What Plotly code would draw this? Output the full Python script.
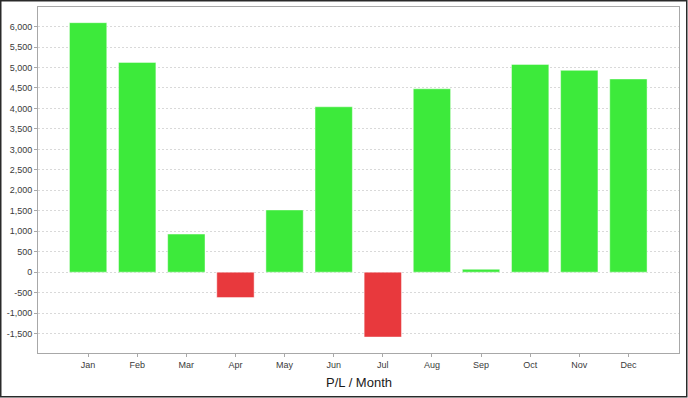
import plotly.graph_objects as go

months = ["Jan", "Feb", "Mar", "Apr", "May", "Jun", "Jul", "Aug", "Sep", "Oct", "Nov", "Dec"]
pl_values = [6095, 5125, 930, -620, 1520, 4040, -1585, 4480, 70, 5075, 4930, 4720]
y_ticks = [-1500, -1000, -500, 0, 500, 1000, 1500, 2000, 2500, 3000, 3500, 4000, 4500, 5000, 5500, 6000]
title_text = "P/L / Month"

GREEN = "#3dea3b"
RED = "#e8393d"
colors = [GREEN if v >= 0 else RED for v in pl_values]

W, H = 688, 398
L, R, T, B = 38, 9, 7, 45
pw, ph = W - L - R, H - T - B

fig = go.Figure(go.Bar(
    x=months, y=pl_values,
    marker=dict(color=colors, line=dict(color="rgba(255,255,255,0.45)", width=1)),
    hoverinfo="x+y",
))

fig.update_layout(
    width=W, height=H,
    margin=dict(l=L, r=R, t=T, b=B),
    paper_bgcolor="white", plot_bgcolor="white",
    bargap=0.24,
    showlegend=False,
    font=dict(family="Liberation Sans, Arial, sans-serif", color="#333333"),
)

fig.update_xaxes(
    type="category", range=[-1.02, 12.03],
    showgrid=False, zeroline=False,
    showline=True, linecolor="#a8a8a8", linewidth=1, mirror=True,
    ticks="outside", ticklen=3, tickcolor="#a8a8a8",
    tickfont=dict(size=9, color="#3a3a3a"),
)

fig.update_yaxes(
    range=[-1975, 6478],
    tickvals=y_ticks, ticktext=[f"{v:,}" for v in y_ticks],
    showgrid=True, gridcolor="#d9d9d9", griddash="2px,2px", gridwidth=1,
    zeroline=False,
    showline=True, linecolor="#a8a8a8", linewidth=1, mirror=True,
    ticks="outside", ticklen=3, tickcolor="#a8a8a8",
    tickfont=dict(size=9, color="#3a3a3a"),
)

fig.add_annotation(
    text=title_text, xref="paper", yref="paper",
    x=0.5, y=(353 - 382) / ph, xanchor="center", yanchor="middle",
    showarrow=False, font=dict(size=13, color="#1a1a1a"),
)

# outer dark frame around the whole image
fig.add_shape(
    type="rect", xref="paper", yref="paper",
    x0=(0.75 - L) / pw, x1=(W - 1.25 - L) / pw,
    y0=(T + ph - (H - 1.25)) / ph, y1=(T + ph - 0.75) / ph,
    line=dict(color="#2a2a2a", width=1.5), fillcolor="rgba(0,0,0,0)", layer="above",
)

fig.write_html(
    "out.html",
    config={"displayModeBar": False},
    post_script="document.body.style.margin='0';document.body.style.overflow='hidden';",
)
